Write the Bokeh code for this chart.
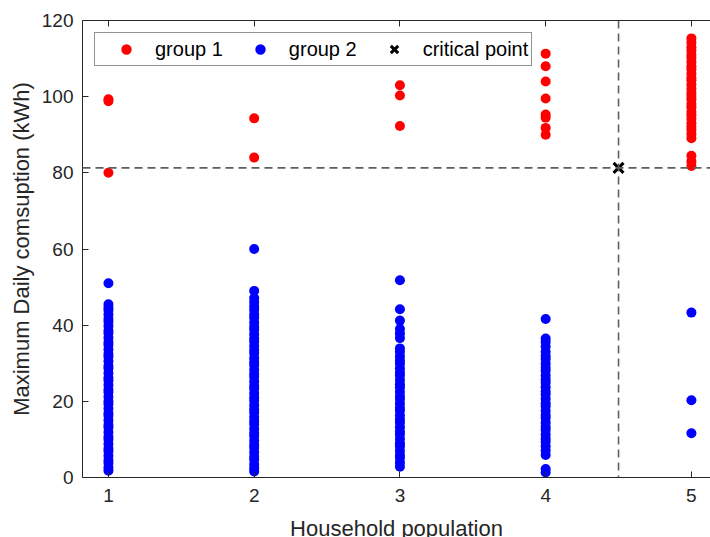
from bokeh.plotting import figure
from bokeh.models import (Span, Legend, LegendItem, LinearAxis, Range1d,
                          ColumnDataSource, FixedTicker)
from bokeh.embed import file_html
from bokeh.resources import INLINE

# ---------------- data ----------------
households = [1, 2, 3, 4, 5]
y_ticks = [0, 20, 40, 60, 80, 100, 120]

# group 1 (red) : maximum daily consumption per household size
g1_h1 = [99.3, 98.8, 80.0]
g1_h2 = [94.3, 84.0]
g1_h3 = [103.0, 100.3, 92.3]
g1_h4 = [111.3, 108.0, 104.0, 99.5, 95.3, 94.5, 91.8, 90.0]
g1_h5 = [115.3, 114.2, 113.0, 112.1, 111.0, 110.2, 109.1, 108.0, 107.2, 106.1,
         105.0, 104.3, 103.2, 102.1, 101.0, 100.2, 99.3, 98.1, 97.2, 96.0,
         95.1, 94.2, 93.0, 92.1, 91.3, 90.2, 89.1, 84.5, 83.0, 81.8]

# group 2 (blue)
g2_h1 = [51.0, 45.5, 44.6, 43.9, 42.8, 41.7, 40.9, 39.8, 38.6, 37.9, 36.7, 35.5,
         34.8, 33.6, 32.4, 31.7, 30.5, 29.3, 28.6, 27.4, 26.2, 25.5, 24.3, 23.1,
         22.4, 21.2, 20.0, 19.3, 18.1, 16.9, 16.2, 15.0, 13.8, 13.1, 11.9, 10.7,
         10.0, 8.8, 7.6, 6.9, 5.7, 4.5, 3.8, 2.6, 1.8]
g2_h2 = [60.0, 49.0, 47.1, 46.0, 44.9, 44.0, 42.8, 41.9, 40.7, 39.6, 38.8, 37.6,
         36.5, 35.7, 34.5, 33.4, 32.6, 31.4, 30.3, 29.5, 28.3, 27.2, 26.4, 25.2,
         24.1, 23.3, 22.1, 21.0, 20.2, 19.0, 17.9, 17.1, 15.9, 14.8, 14.0, 12.8,
         11.7, 10.9, 9.7, 8.6, 7.8, 6.6, 5.5, 4.7, 3.5, 2.4, 1.6]
g2_h3 = [51.8, 44.2, 41.2, 39.0, 37.8, 36.6, 33.9, 33.0, 31.8, 30.7, 29.9, 28.7,
         27.6, 26.8, 25.6, 24.5, 23.7, 22.5, 21.4, 20.6, 19.4, 18.3, 17.5, 16.3,
         15.2, 14.4, 13.2, 12.1, 11.3, 10.1, 9.0, 8.2, 7.0, 5.9, 5.1, 3.9, 2.8]
g2_h4 = [41.6, 36.5, 35.6, 34.4, 33.0, 31.9, 31.1, 29.9, 28.8, 28.0, 26.8, 25.7,
         24.9, 23.7, 22.6, 21.8, 20.6, 19.5, 18.7, 17.5, 16.4, 15.6, 14.4, 13.3,
         12.5, 11.3, 10.2, 9.4, 8.2, 7.1, 5.9, 2.2, 1.3]
g2_h5 = [43.3, 20.3, 11.6]

crit_x = [4.5]
crit_y = [81.3]

g1_lists = [g1_h1, g1_h2, g1_h3, g1_h4, g1_h5]
g2_lists = [g2_h1, g2_h2, g2_h3, g2_h4, g2_h5]

def flatten(lists):
    xs, ys = [], []
    for h, vals in zip(households, lists):
        xs.extend([h] * len(vals))
        ys.extend(vals)
    return ColumnDataSource(dict(x=xs, y=ys))

src1 = flatten(g1_lists)
src2 = flatten(g2_lists)

# ---------------- figure ----------------
FONT = "Liberation Sans"
AX = "#262626"

p = figure(frame_width=628, frame_height=457,
           x_range=Range1d(0.822, 5.131), y_range=Range1d(0, 120),
           output_backend="svg", toolbar_location=None,
           min_border_left=82, min_border_right=0,
           min_border_top=20, min_border_bottom=60,
           background_fill_color="white", border_fill_color="white")
p.outline_line_color = None
p.xgrid.grid_line_color = None
p.ygrid.grid_line_color = None

r1 = p.scatter("x", "y", source=src1, size=10, color="#ff0000", line_color=None)
r2 = p.scatter("x", "y", source=src2, size=10, color="#0000ff", line_color=None)

p.add_layout(Span(location=crit_x[0], dimension="height", line_color="#5f5f5f",
                  line_width=1.6, line_dash="8 5"))
p.add_layout(Span(location=crit_y[0], dimension="width", line_color="#5f5f5f",
                  line_width=1.6, line_dash="8 5"))

r3 = p.scatter(crit_x, crit_y, marker="x", size=14, line_width=3, color="black")

for ax in (p.xaxis[0], p.yaxis[0]):
    ax.axis_line_color = AX
    ax.major_tick_line_color = AX
    ax.major_tick_in = 6
    ax.major_tick_out = 0
    ax.minor_tick_line_color = None
    ax.major_label_text_font = FONT
    ax.major_label_text_font_size = "19px"
    ax.major_label_text_color = AX
    ax.axis_label_text_font = FONT
    ax.axis_label_text_font_size = "22px"
    ax.axis_label_text_font_style = "normal"
    ax.axis_label_text_color = AX

p.xaxis.ticker = FixedTicker(ticks=households)
p.yaxis.ticker = FixedTicker(ticks=y_ticks)
p.xaxis.axis_label = "Household population"
p.yaxis.axis_label = "Maximum Daily comsuption (kWh)"
p.xaxis.major_label_standoff = 11
p.xaxis.axis_label_standoff = 11
p.yaxis.major_label_standoff = 9
p.yaxis.axis_label_standoff = 5

top = LinearAxis(ticker=FixedTicker(ticks=households),
                 major_label_text_font_size="0px",
                 major_tick_in=6, major_tick_out=0,
                 minor_tick_line_color=None,
                 axis_line_color=AX, major_tick_line_color=AX)
p.add_layout(top, "above")

legend = Legend(items=[LegendItem(label="group 1", renderers=[r1]),
                       LegendItem(label="group 2", renderers=[r2]),
                       LegendItem(label="critical point", renderers=[r3])],
                orientation="horizontal", location="top_left",
                margin=12, padding=3, spacing=9,
                glyph_width=56, glyph_height=26, label_standoff=1,
                label_text_font=FONT, label_text_font_size="20px",
                label_text_color="black",
                border_line_color=AX, border_line_width=1,
                background_fill_color="white", background_fill_alpha=1.0)
p.add_layout(legend)

open("out.html", "w").write(file_html(p, INLINE))
